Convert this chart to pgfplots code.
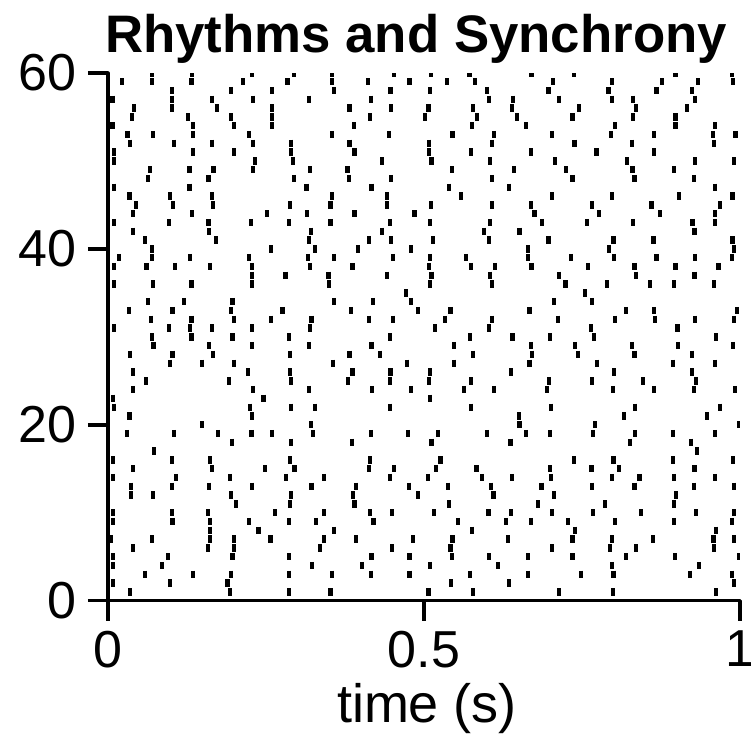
\documentclass[border=0pt]{standalone}
\usepackage{pgfplots}
\pgfplotsset{compat=1.18}
\usepackage{fontspec}
\setmainfont{Liberation Sans}
\begin{document}
\begin{tikzpicture}
\begin{axis}[
  at={(0,0)}, anchor=south west,
  scale only axis, width=316pt, height=263.85pt,
  xmin=0, xmax=1, ymin=0, ymax=60,
  axis x line*=bottom, axis y line*=left,
  axis line style={line width=1.8pt, line cap=round, line join=round},
  xtick={0,0.5,1}, xticklabels={0,0.5,1},
  ytick={0,20,40,60},
  tick align=outside, major tick length=10pt,
  every tick/.style={black, line width=1.8pt},
  /pgf/number format/assume math mode=true,
  tick label style={font=\fontsize{26}{30}\selectfont},
  xticklabel style={inner sep=0pt, yshift=-5pt},
  yticklabel style={inner sep=0pt, xshift=-5.5pt},
  clip marker paths=true,
]
\addplot[only marks, mark=|, mark size=1.85pt, mark options={line width=2.1pt, black}] coordinates {
(0.069,60)(0.133,60)(0.228,60)(0.294,60)(0.355,60)(0.453,60)(0.511,60)(0.572,60)(0.670,60)(0.737,60)(0.898,60)(0.987,60)
(0.022,59)(0.069,59)(0.132,59)(0.213,59)(0.284,59)(0.355,59)(0.412,59)(0.477,59)(0.536,59)(0.581,59)(0.704,59)(0.798,59)(0.876,59)(0.933,59)(0.989,59)
(0.101,58)(0.194,58)(0.260,58)(0.358,58)(0.447,58)(0.509,58)(0.600,58)(0.697,58)(0.792,58)(0.868,58)(0.924,58)
(0.007,57)(0.101,57)(0.164,57)(0.230,57)(0.318,57)(0.416,57)(0.603,57)(0.641,57)(0.713,57)(0.797,57)(0.831,57)(0.929,57)
(0.041,56)(0.101,56)(0.173,56)(0.260,56)(0.382,56)(0.448,56)(0.507,56)(0.578,56)(0.639,56)(0.745,56)(0.835,56)(0.916,56)
(0.038,55)(0.127,55)(0.194,55)(0.260,55)(0.415,55)(0.501,55)(0.584,55)(0.647,55)(0.735,55)(0.831,55)(0.898,55)
(0.007,54)(0.135,54)(0.199,54)(0.260,54)(0.389,54)(0.576,54)(0.662,54)(0.802,54)(0.898,54)(0.961,54)
(0.031,53)(0.071,53)(0.135,53)(0.223,53)(0.355,53)(0.444,53)(0.545,53)(0.611,53)(0.702,53)(0.796,53)(0.864,53)(0.957,53)(0.993,53)
(0.035,52)(0.105,52)(0.165,52)(0.229,52)(0.290,52)(0.382,52)(0.508,52)(0.607,52)(0.738,52)(0.829,52)(0.959,52)
(0.009,51)(0.135,51)(0.200,51)(0.290,51)(0.390,51)(0.508,51)(0.574,51)(0.669,51)(0.773,51)(0.864,51)
(0.009,50)(0.233,50)(0.293,50)(0.433,50)(0.512,50)(0.605,50)(0.707,50)(0.821,50)(0.929,50)(0.990,50)
(0.067,49)(0.129,49)(0.167,49)(0.230,49)(0.319,49)(0.379,49)(0.544,49)(0.642,49)(0.725,49)(0.830,49)(0.896,49)
(0.063,48)(0.159,48)(0.294,48)(0.381,48)(0.448,48)(0.607,48)(0.735,48)(0.833,48)(0.927,48)
(0.009,47)(0.129,47)(0.314,47)(0.417,47)(0.540,47)(0.634,47)(0.961,47)
(0.034,46)(0.098,46)(0.164,46)(0.354,46)(0.442,46)(0.559,46)(0.702,46)(0.798,46)(0.904,46)(0.988,46)
(0.044,45)(0.103,45)(0.166,45)(0.288,45)(0.352,45)(0.441,45)(0.511,45)(0.608,45)(0.669,45)(0.766,45)(0.860,45)(0.968,45)
(0.039,44)(0.133,44)(0.252,44)(0.315,44)(0.390,44)(0.485,44)(0.675,44)(0.777,44)(0.874,44)(0.960,44)
(0.010,43)(0.097,43)(0.159,43)(0.226,43)(0.287,43)(0.352,43)(0.446,43)(0.509,43)(0.605,43)(0.687,43)(0.758,43)(0.831,43)(0.925,43)(0.961,43)
(0.040,42)(0.160,42)(0.321,42)(0.433,42)(0.595,42)(0.651,42)(0.928,42)
(0.058,41)(0.171,41)(0.318,41)(0.413,41)(0.448,41)(0.514,41)(0.603,41)(0.697,41)(0.800,41)(0.863,41)(0.988,41)
(0.069,40)(0.258,40)(0.327,40)(0.396,40)(0.479,40)(0.664,40)(0.793,40)(0.990,40)
(0.017,39)(0.069,39)(0.130,39)(0.223,39)(0.316,39)(0.357,39)(0.451,39)(0.509,39)(0.567,39)(0.664,39)(0.732,39)(0.801,39)(0.868,39)(0.929,39)(0.987,39)
(0.009,38)(0.061,38)(0.106,38)(0.162,38)(0.228,38)(0.320,38)(0.387,38)(0.508,38)(0.574,38)(0.612,38)(0.670,38)(0.760,38)(0.833,38)(0.898,38)(0.966,38)
(0.228,37)(0.281,37)(0.349,37)(0.442,37)(0.512,37)(0.605,37)(0.714,37)(0.835,37)(0.928,37)
(0.009,36)(0.071,36)(0.132,36)(0.228,36)(0.350,36)(0.510,36)(0.608,36)(0.724,36)(0.789,36)(0.857,36)(0.895,36)(0.959,36)
(0.472,35)(0.755,35)
(0.063,34)(0.120,34)(0.197,34)(0.357,34)(0.419,34)(0.480,34)(0.706,34)(0.766,34)
(0.033,33)(0.102,33)(0.195,33)(0.276,33)(0.385,33)(0.491,33)(0.542,33)(0.667,33)(0.819,33)(0.864,33)(0.995,33)
(0.068,32)(0.132,32)(0.200,32)(0.258,32)(0.322,32)(0.413,32)(0.451,32)(0.533,32)(0.607,32)(0.712,32)(0.802,32)(0.866,32)(0.929,32)(0.990,32)
(0.009,31)(0.096,31)(0.130,31)(0.165,31)(0.228,31)(0.319,31)(0.517,31)(0.603,31)(0.764,31)(0.901,31)
(0.069,30)(0.132,30)(0.197,30)(0.287,30)(0.446,30)(0.573,30)(0.640,30)(0.700,30)(0.769,30)(0.962,30)
(0.072,29)(0.160,29)(0.228,29)(0.318,29)(0.417,29)(0.547,29)(0.669,29)(0.739,29)(0.829,29)(0.902,29)(0.989,29)
(0.035,28)(0.102,28)(0.166,28)(0.288,28)(0.382,28)(0.430,28)(0.577,28)(0.671,28)(0.744,28)(0.833,28)(0.924,28)
(0.098,27)(0.149,27)(0.199,27)(0.356,27)(0.473,27)(0.547,27)(0.667,27)(0.774,27)(0.894,27)(0.961,27)
(0.039,26)(0.221,26)(0.288,26)(0.387,26)(0.447,26)(0.509,26)(0.638,26)(0.801,26)(0.924,26)
(0.060,25)(0.192,25)(0.289,25)(0.380,25)(0.446,25)(0.508,25)(0.575,25)(0.698,25)(0.766,25)(0.847,25)(0.930,25)
(0.040,24)(0.229,24)(0.318,24)(0.418,24)(0.479,24)(0.563,24)(0.611,24)(0.695,24)(0.799,24)(0.864,24)(0.927,24)(0.992,24)
(0.008,23)(0.246,23)(0.510,23)
(0.009,22)(0.225,22)(0.289,22)(0.327,22)(0.446,22)(0.574,22)(0.701,22)(0.834,22)(0.968,22)
(0.034,21)(0.228,21)(0.650,21)(0.817,21)(0.948,21)
(0.149,20)(0.321,20)(0.651,20)(0.771,20)(0.999,20)
(0.030,19)(0.104,19)(0.174,19)(0.227,19)(0.259,19)(0.324,19)(0.416,19)(0.475,19)(0.522,19)(0.600,19)(0.662,19)(0.700,19)(0.767,19)(0.834,19)(0.894,19)(0.960,19)
(0.196,18)(0.289,18)(0.386,18)(0.512,18)(0.637,18)(0.826,18)(0.922,18)
(0.073,17)(0.932,17)
(0.008,16)(0.101,16)(0.162,16)(0.288,16)(0.415,16)(0.526,16)(0.737,16)(0.800,16)(0.894,16)(0.989,16)
(0.040,15)(0.164,15)(0.248,15)(0.295,15)(0.413,15)(0.452,15)(0.519,15)(0.583,15)(0.699,15)(0.765,15)(0.808,15)(0.928,15)
(0.008,14)(0.108,14)(0.193,14)(0.282,14)(0.342,14)(0.446,14)(0.506,14)(0.592,14)(0.639,14)(0.701,14)(0.797,14)(0.841,14)(0.895,14)(0.960,14)
(0.036,13)(0.101,13)(0.160,13)(0.228,13)(0.322,13)(0.392,13)(0.476,13)(0.538,13)(0.606,13)(0.686,13)(0.766,13)(0.833,13)(0.927,13)(0.990,13)
(0.036,12)(0.071,12)(0.194,12)(0.290,12)(0.388,12)(0.490,12)(0.610,12)(0.706,12)(0.899,12)
(0.202,11)(0.288,11)(0.390,11)(0.540,11)(0.680,11)(0.787,11)(0.896,11)
(0.008,10)(0.101,10)(0.158,10)(0.264,10)(0.342,10)(0.414,10)(0.449,10)(0.516,10)(0.602,10)(0.638,10)(0.703,10)(0.767,10)(0.843,10)(0.931,10)(0.990,10)
(0.008,9)(0.102,9)(0.162,9)(0.223,9)(0.287,9)(0.329,9)(0.420,9)(0.554,9)(0.630,9)(0.669,9)(0.728,9)(0.802,9)(0.896,9)(0.987,9)
(0.162,8)(0.238,8)(0.357,8)(0.576,8)(0.739,8)(0.962,8)
(0.005,7)(0.069,7)(0.161,7)(0.199,7)(0.257,7)(0.342,7)(0.392,7)(0.482,7)(0.545,7)(0.633,7)(0.735,7)(0.798,7)(0.862,7)(0.958,7)(0.990,7)
(0.040,6)(0.158,6)(0.199,6)(0.336,6)(0.449,6)(0.542,6)(0.702,6)(0.794,6)(0.836,6)(0.959,6)
(0.008,5)(0.095,5)(0.197,5)(0.287,5)(0.417,5)(0.477,5)(0.544,5)(0.603,5)(0.664,5)(0.735,5)(0.820,5)(0.897,5)(0.998,5)
(0.008,4)(0.086,4)(0.323,4)(0.402,4)(0.509,4)(0.617,4)(0.798,4)(0.935,4)
(0.058,3)(0.134,3)(0.194,3)(0.287,3)(0.355,3)(0.416,3)(0.477,3)(0.573,3)(0.664,3)(0.749,3)(0.800,3)(0.921,3)(0.987,3)
(0.008,2)(0.098,2)(0.189,2)(0.543,2)(0.634,2)(0.990,2)
(0.035,1)(0.193,1)(0.287,1)(0.352,1)(0.507,1)(0.577,1)(0.714,1)(0.799,1)(0.962,1)
};
\end{axis}
\node[anchor=base, font=\bfseries\fontsize{26.4}{30}\selectfont] at (154pt,273.85pt) {Rhythms and Synchrony};
\node[anchor=base, font=\fontsize{27}{30}\selectfont] at (159.5pt,-61pt) {time (s)};
\pgfresetboundingbox
\path[use as bounding box] (-54pt,-69.15pt) rectangle (321.5pt,300.35pt);
\end{tikzpicture}
\end{document}
